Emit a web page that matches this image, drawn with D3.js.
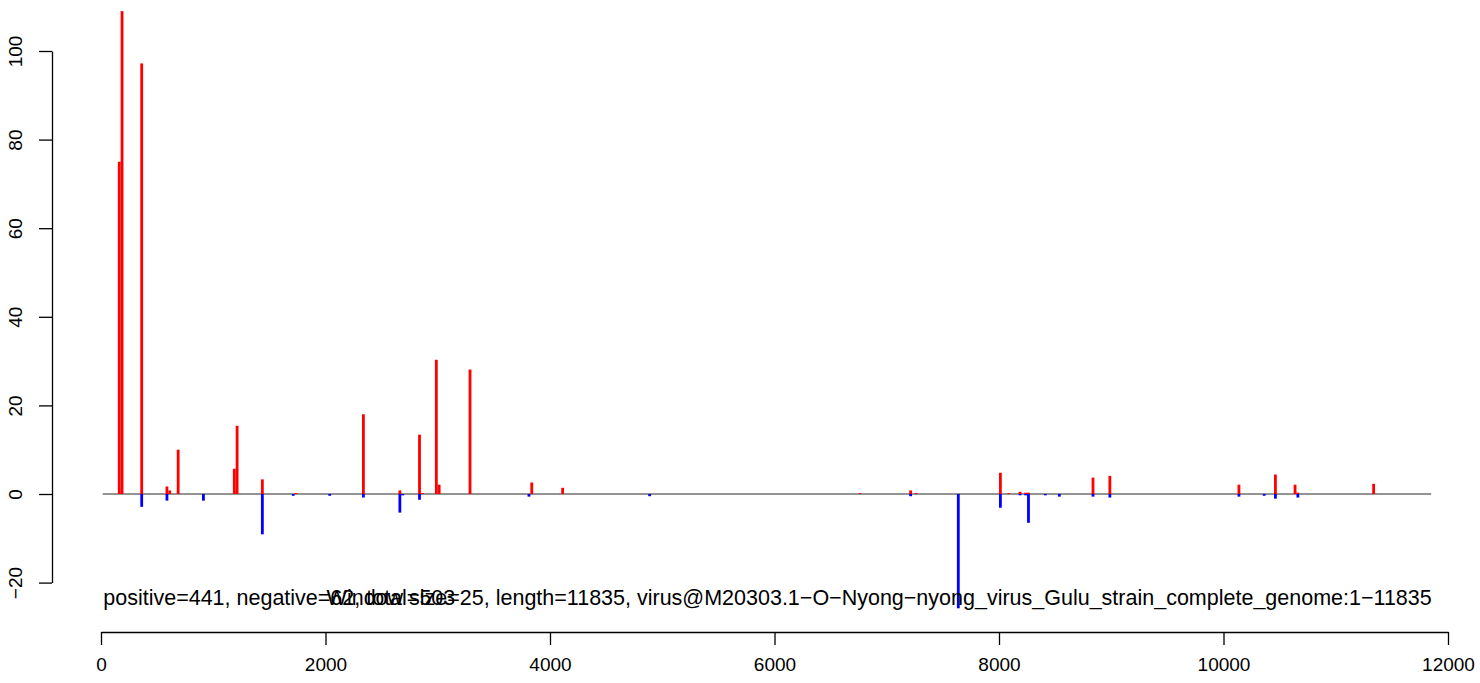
<!DOCTYPE html>
<html>
<head>
<meta charset="utf-8">
<script src="https://cdn.jsdelivr.net/npm/d3@7"></script>
<style>
  html, body { margin: 0; padding: 0; background: #fff; }
  svg { display: block; }
  text { font-family: "Liberation Sans", Arial, Helvetica, sans-serif; }
</style>
</head>
<body>
<svg id="chart" width="1480" height="683"></svg>
<script>
// ---- data ----
const windowSize = 25;
const genomeLength = 11835;
const positiveCount = 441;
const negativeCount = 62;
const totalCount = 503;
const virusName = "virus@M20303.1\u2212O\u2212Nyong\u2212nyong_virus_Gulu_strain_complete_genome:1\u221211835";

// window start positions with positive-strand counts
const posStarts = [150, 175, 350, 575, 600, 675, 1175, 1200, 1425, 1725, 2325, 2650, 2825, 2850, 2975, 3000, 3275, 3825, 4100, 6750, 7200, 7250, 8000, 8075, 8175, 8225, 8250, 8825, 8975, 10125, 10450, 10625, 10650, 11325];
const posValues = [75, 109, 97.2, 1.7, 0.8, 10.0, 5.7, 15.4, 3.3, 0.2, 18.0, 0.8, 13.4, 0.2, 30.3, 2.1, 28.1, 2.6, 1.4, 0.2, 0.8, 0.2, 4.8, 0.2, 0.5, 0.3, 0.3, 3.7, 4.1, 2.1, 4.4, 2.1, 0.3, 2.3];

// window start positions with negative-strand counts
const negStarts = [350, 575, 900, 1425, 1700, 2025, 2325, 2650, 2675, 2825, 3800, 4875, 7200, 7625, 8000, 8175, 8225, 8250, 8400, 8525, 8825, 8975, 10125, 10350, 10450, 10650];
const negValues = [-2.9, -1.5, -1.5, -9.1, -0.4, -0.4, -0.8, -4.2, -0.3, -1.3, -0.6, -0.5, -0.5, -25.8, -3.1, -0.3, -0.3, -6.5, -0.3, -0.6, -0.6, -0.8, -0.6, -0.4, -1.05, -0.8];

const xTicks = [0, 2000, 4000, 6000, 8000, 10000, 12000];
const yTicks = [-20, 0, 20, 40, 60, 80, 100];

// ---- drawing ----
const svg = d3.select("#chart");
const FONT = 19;
const NOTE_FONT = 21.5;

const x = d3.scaleLinear().domain([0, 12000]).range([101, 1448]);
const y = d3.scaleLinear().domain([-20, 100]).range([582.6, 51]);

// zero line
svg.append("line")
  .attr("x1", x(15)).attr("x2", x(genomeLength + 15))
  .attr("y1", y(0)).attr("y2", y(0))
  .attr("stroke", "#707070").attr("stroke-width", 1.4);

const posData = posStarts.map((s, i) => ({ s, v: posValues[i] }));
const negData = negStarts.map((s, i) => ({ s, v: negValues[i] }));

svg.append("g").selectAll("rect").data(posData).join("rect")
  .attr("x", d => x(d.s))
  .attr("width", d => x(d.s + windowSize) - x(d.s))
  .attr("y", d => y(d.v))
  .attr("height", d => y(0) - y(d.v))
  .attr("fill", "#ff0000");

svg.append("g").selectAll("rect").data(negData).join("rect")
  .attr("x", d => x(d.s))
  .attr("width", d => x(d.s + windowSize) - x(d.s))
  .attr("y", y(0))
  .attr("height", d => y(d.v) - y(0))
  .attr("fill", "#0000ff");

// x axis
const xAxis = svg.append("g")
  .attr("transform", "translate(0,632)")
  .call(d3.axisBottom(x).tickValues(xTicks).tickFormat(d3.format("d")).tickSize(13).tickSizeOuter(0).tickPadding(13));
xAxis.selectAll("path, line").attr("stroke", "#000").attr("stroke-width", 1.3);
xAxis.selectAll("text").attr("font-size", FONT).attr("fill", "#000")
  .style("font-family", '"Liberation Sans", Arial, sans-serif');

// y axis
const yAxis = svg.append("g")
  .attr("transform", "translate(52,0)")
  .call(d3.axisLeft(y).tickValues(yTicks).tickFormat(d => d < 0 ? "\u2212" + Math.abs(d) : String(d)).tickSize(13).tickSizeOuter(0));
yAxis.selectAll("path, line").attr("stroke", "#000").attr("stroke-width", 1.3);
yAxis.selectAll("text")
  .attr("x", null).attr("dy", null)
  .attr("text-anchor", "middle")
  .attr("transform", "translate(-30,0) rotate(-90)")
  .attr("font-size", FONT).attr("fill", "#000")
  .style("font-family", '"Liberation Sans", Arial, sans-serif');

// annotations
svg.append("text")
  .attr("x", x(20)).attr("y", 605)
  .attr("font-size", NOTE_FONT).attr("fill", "#000")
  .text(`positive=${positiveCount}, negative=${negativeCount}, total=${totalCount}`);

svg.append("text")
  .attr("x", x(genomeLength + 20)).attr("y", 605)
  .attr("text-anchor", "end")
  .attr("font-size", NOTE_FONT).attr("fill", "#000")
  .text(`Window size=${windowSize}, length=${genomeLength}, ${virusName}`);
</script>
</body>
</html>
